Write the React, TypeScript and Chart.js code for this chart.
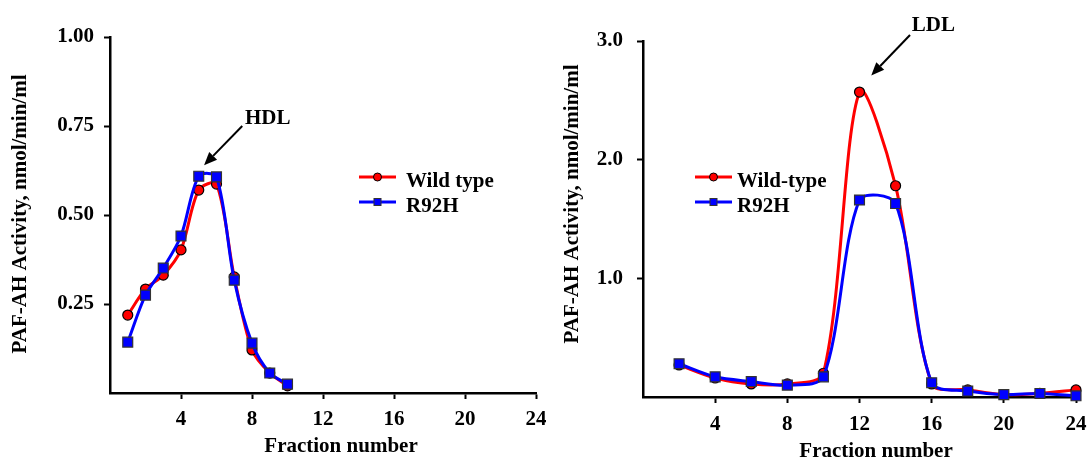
import { useEffect, useRef } from "react";
import { Chart, registerables } from "chart.js";

Chart.register(...registerables);

const FONT = '"Liberation Serif", "Times New Roman", serif';

// HDL panel (left)
const hdlFractions = [1, 2, 3, 4, 5, 6, 7, 8, 9, 10];
const hdlWildType = [0.219, 0.292, 0.331, 0.402, 0.57, 0.587, 0.326, 0.121, 0.056, 0.02];
const hdlR92H = [0.143, 0.275, 0.351, 0.441, 0.609, 0.607, 0.317, 0.14, 0.056, 0.025];

// LDL panel (right)
const ldlFractions = [2, 4, 6, 8, 10, 12, 14, 16, 18, 20, 22, 24];
const ldlWildType = [0.27, 0.16, 0.11, 0.11, 0.2, 2.57, 1.78, 0.11, 0.06, 0.02, 0.03, 0.06];
const ldlR92H = [0.28, 0.17, 0.13, 0.1, 0.17, 1.66, 1.63, 0.12, 0.05, 0.02, 0.03, 0.01];

// Tick labels
const fractionTicks = [4, 8, 12, 16, 20, 24];
const hdlActivityTicks = [0.25, 0.5, 0.75, 1.0];
const ldlActivityTicks = [1, 2, 3];

const xTitle = "Fraction number";
const yTitle = "PAF-AH Activity, nmol/min/ml";

interface Panel {
  offsetX: number;
  width: number;
  yWidth: number;
  padRight: number;
  padTop: number;
  xHeight: number;
  yTickPad: number;
  xTickPad: number;
  fractions: number[];
  wt: number[];
  mut: number[];
  wtLabel: string;
  mutLabel: string;
  yMax: number;
  yTicks: number[];
  yDecimals: number;
  legend: { x0: number; x1: number; textX: number; y0: number; y1: number };
  arrow: { label: string; textX: number; textY: number; fx: number; fy: number; tx: number; ty: number };
  yTitlePos: { x: number; y: number };
  xTitlePos: { x: number; y: number };
}

const panels: Panel[] = [
  {
    offsetX: 0,
    width: 546,
    yWidth: 110,
    padRight: 10,
    padTop: 37,
    xHeight: 67,
    yTickPad: 10,
    xTickPad: 8,
    fractions: hdlFractions,
    wt: hdlWildType,
    mut: hdlR92H,
    wtLabel: "Wild type",
    mutLabel: "R92H",
    yMax: 1,
    yTicks: hdlActivityTicks,
    yDecimals: 2,
    legend: { x0: 359, x1: 396, textX: 406, y0: 177, y1: 202 },
    arrow: { label: "HDL", textX: 7.6, textY: 0.77, fx: 7.45, fy: 0.75, tx: 5.3, ty: 0.64 },
    yTitlePos: { x: 21, y: 214 },
    xTitlePos: { x: 341, y: 447 },
  },
  {
    offsetX: 546,
    width: 546,
    yWidth: 97,
    padRight: 16,
    padTop: 41,
    xHeight: 63,
    yTickPad: 14,
    xTickPad: 9,
    fractions: ldlFractions,
    wt: ldlWildType,
    mut: ldlR92H,
    wtLabel: "Wild-type",
    mutLabel: "R92H",
    yMax: 3,
    yTicks: ldlActivityTicks,
    yDecimals: 1,
    legend: { x0: 695, x1: 732, textX: 737, y0: 177, y1: 202 },
    arrow: { label: "LDL", textX: 14.9, textY: 3.13, fx: 14.8, fy: 3.05, tx: 12.65, ty: 2.71 },
    yTitlePos: { x: 573, y: 204 },
    xTitlePos: { x: 876, y: 452 },
  },
];

const RED = "#ff0000";
const BLUE = "#0000ff";

function drawArrow(ctx: CanvasRenderingContext2D, fx: number, fy: number, tx: number, ty: number) {
  const ang = Math.atan2(ty - fy, tx - fx);
  const headLen = 13;
  const headHalf = 5.5;
  const bx = tx - Math.cos(ang) * headLen;
  const by = ty - Math.sin(ang) * headLen;
  ctx.save();
  ctx.strokeStyle = "#000";
  ctx.fillStyle = "#000";
  ctx.lineWidth = 2;
  ctx.beginPath();
  ctx.moveTo(fx, fy);
  ctx.lineTo(bx, by);
  ctx.stroke();
  ctx.beginPath();
  ctx.moveTo(tx, ty);
  ctx.lineTo(bx + Math.sin(ang) * headHalf, by - Math.cos(ang) * headHalf);
  ctx.lineTo(bx - Math.sin(ang) * headHalf, by + Math.cos(ang) * headHalf);
  ctx.closePath();
  ctx.fill();
  ctx.restore();
}

function makeDecorPlugin(p: Panel) {
  return {
    id: "decor",
    afterDraw(chart: any) {
      const ctx: CanvasRenderingContext2D = chart.ctx;
      const xs = chart.scales.x;
      const ys = chart.scales.y;
      const off = p.offsetX;
      ctx.save();
      ctx.fillStyle = "#000";
      ctx.font = `bold 21px ${FONT}`;

      // arrow + label
      const a = p.arrow;
      drawArrow(ctx, xs.getPixelForValue(a.fx), ys.getPixelForValue(a.fy), xs.getPixelForValue(a.tx), ys.getPixelForValue(a.ty));
      ctx.textAlign = "left";
      ctx.textBaseline = "middle";
      ctx.fillText(a.label, xs.getPixelForValue(a.textX), ys.getPixelForValue(a.textY));

      // legend
      const L = p.legend;
      const mid = (L.x0 + L.x1) / 2 - off;
      ctx.strokeStyle = RED;
      ctx.lineWidth = 3;
      ctx.beginPath();
      ctx.moveTo(L.x0 - off, L.y0);
      ctx.lineTo(L.x1 - off, L.y0);
      ctx.stroke();
      ctx.fillStyle = RED;
      ctx.strokeStyle = "#000";
      ctx.lineWidth = 1;
      ctx.beginPath();
      ctx.arc(mid, L.y0, 4, 0, Math.PI * 2);
      ctx.fill();
      ctx.stroke();

      ctx.strokeStyle = BLUE;
      ctx.lineWidth = 3;
      ctx.beginPath();
      ctx.moveTo(L.x0 - off, L.y1);
      ctx.lineTo(L.x1 - off, L.y1);
      ctx.stroke();
      ctx.fillStyle = BLUE;
      ctx.strokeStyle = "#333";
      ctx.lineWidth = 1;
      ctx.fillRect(mid - 3.5, L.y1 - 3.5, 7, 7);
      ctx.strokeRect(mid - 3.5, L.y1 - 3.5, 7, 7);

      ctx.fillStyle = "#000";
      ctx.textAlign = "left";
      ctx.textBaseline = "middle";
      ctx.fillText(p.wtLabel, L.textX - off, L.y0 + 5);
      ctx.fillText(p.mutLabel, L.textX - off, L.y1 + 5);

      // axis titles
      ctx.textAlign = "center";
      ctx.fillText(xTitle, p.xTitlePos.x - off, p.xTitlePos.y);
      ctx.save();
      ctx.translate(p.yTitlePos.x - off, p.yTitlePos.y);
      ctx.rotate(-Math.PI / 2);
      ctx.fillText(yTitle, 0, 0);
      ctx.restore();

      ctx.restore();
    },
  };
}

function PanelChart({ p }: { p: Panel }) {
  const ref = useRef<HTMLCanvasElement | null>(null);
  useEffect(() => {
    if (!ref.current) return;
    const tickFont = { family: FONT, size: 21, weight: "bold" as const };
    const chart = new Chart(ref.current, {
      type: "line",
      data: {
        datasets: [
          {
            label: p.wtLabel,
            data: p.fractions.map((x, i) => ({ x, y: p.wt[i] })),
            borderColor: RED,
            backgroundColor: RED,
            borderWidth: 3,
            pointStyle: "circle",
            pointRadius: 5,
            pointBackgroundColor: RED,
            pointBorderColor: "#000",
            pointBorderWidth: 1.2,
            tension: 0.3,
            fill: false,
            clip: false,
            order: 1,
          },
          {
            label: p.mutLabel,
            data: p.fractions.map((x, i) => ({ x, y: p.mut[i] })),
            borderColor: BLUE,
            backgroundColor: BLUE,
            borderWidth: 3,
            pointStyle: "rect",
            pointRadius: 7,
            pointBackgroundColor: BLUE,
            pointBorderColor: "#333",
            pointBorderWidth: 1.2,
            tension: 0.3,
            fill: false,
            clip: false,
            order: 0,
          },
        ],
      },
      options: {
        responsive: false,
        maintainAspectRatio: false,
        animation: false,
        events: [],
        layout: { padding: { left: 0, right: p.padRight, top: p.padTop, bottom: 0 } },
        plugins: {
          legend: { display: false },
          tooltip: { enabled: false },
          title: { display: false },
        },
        scales: {
          x: {
            type: "linear",
            min: 0,
            max: 24,
            afterBuildTicks: (s: any) => {
              s.ticks = fractionTicks.map((v) => ({ value: v }));
            },
            afterFit: (s: any) => {
              s.height = p.xHeight;
              s.paddingLeft = 0;
              s.paddingRight = 0;
            },
            border: { display: true, color: "#000", width: 2.5 },
            grid: { drawOnChartArea: false, drawTicks: true, tickLength: 6, tickColor: "#000", tickWidth: 2, color: "#000" },
            ticks: {
              color: "#000",
              font: tickFont,
              padding: p.xTickPad,
              maxRotation: 0,
              autoSkip: false,
              callback: (v: any) => String(v),
            },
          },
          y: {
            type: "linear",
            min: 0,
            max: p.yMax,
            afterBuildTicks: (s: any) => {
              s.ticks = p.yTicks.map((v) => ({ value: v }));
            },
            afterFit: (s: any) => {
              s.width = p.yWidth;
              s.paddingTop = 0;
              s.paddingBottom = 0;
            },
            border: { display: true, color: "#000", width: 2.5 },
            grid: { drawOnChartArea: false, drawTicks: true, tickLength: 6, tickColor: "#000", tickWidth: 2, color: "#000" },
            ticks: {
              color: "#000",
              font: tickFont,
              padding: p.yTickPad,
              autoSkip: false,
              callback: (v: any) => Number(v).toFixed(p.yDecimals),
            },
          },
        },
      },
      plugins: [makeDecorPlugin(p)],
    } as any);
    return () => chart.destroy();
  }, [p]);
  return (
    <canvas
      ref={ref}
      width={p.width}
      height={460}
      style={{ position: "absolute", left: p.offsetX, top: 0, width: p.width, height: 460 }}
    />
  );
}

export default function App() {
  return (
    <div style={{ position: "absolute", left: 0, top: 0, width: 1092, height: 460, background: "#fff", overflow: "hidden" }}>
      {panels.map((p, i) => (
        <PanelChart key={i} p={p} />
      ))}
    </div>
  );
}
